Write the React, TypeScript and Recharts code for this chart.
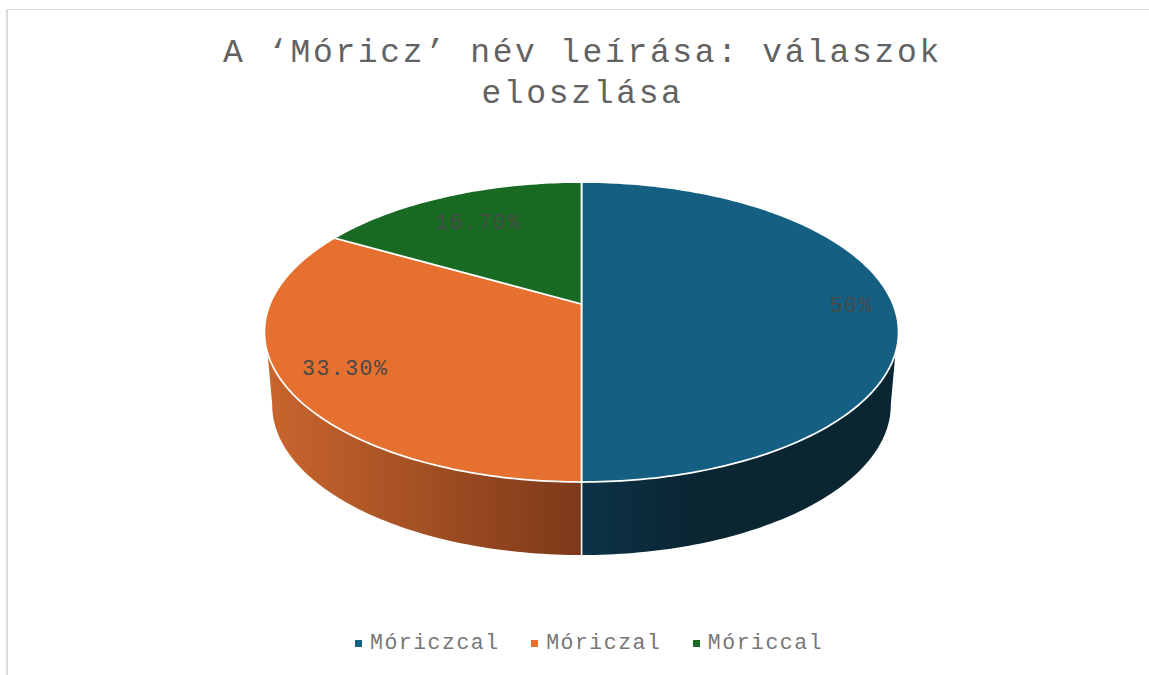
import React from "react";
import { PieChart, Pie, Legend } from "recharts";

const categories = ["Móriczcal", "Móriczal", "Móriccal"];
const shares = [50, 33.3, 16.7];
const labels = ["50%", "33.30%", "16.70%"];
const colors = ["#156082", "#E6702F", "#196B24"];
const wallStops = [
  [["0%", "#0D3247"], ["35%", "#0A2633"], ["100%", "#0A2633"]],
  [["0%", "#C9652D"], ["100%", "#7C3919"]],
  [["0%", "#0F4016"], ["100%", "#0F4016"]],
];
const labelReach = [0.866, 0.81, 0.74];
const titleLines = ["A ‘Móricz’ név leírása: válaszok", "eloszlása"];

const FONT = "'Liberation Mono', monospace";
const TILT = 0.4648;
const PERSPECTIVE = 0.1867;
const DEPTH = 73;
const BASE_SCALE = 0.9755;

const rows = categories.map((name, i) => ({ name, value: shares[i], fill: colors[i] }));

function project(cx: number, cy: number, r: number, deg: number, reach = 1, scale = 1, drop = 0) {
  const a = (deg * Math.PI) / 180;
  const u = Math.cos(a) * reach;
  const v = Math.sin(a) * reach;
  const w = 1 + PERSPECTIVE * v;
  return [cx + (r * scale * u) / w, cy + drop - (r * TILT * v) / w];
}

function arc(cx: number, cy: number, r: number, from: number, to: number, scale = 1, drop = 0) {
  const n = Math.max(2, Math.ceil(Math.abs(to - from)));
  const pts: number[][] = [];
  for (let i = 0; i <= n; i++) pts.push(project(cx, cy, r, from + ((to - from) * i) / n, 1, scale, drop));
  return pts;
}

const toPath = (pts: number[][]) =>
  pts.map((p, i) => `${i ? "L" : "M"}${p[0].toFixed(2)} ${p[1].toFixed(2)}`).join(" ");

// Part of [lo, hi] (degrees, math convention) that shows on the front wall, down to a limit angle.
function frontRange(a: number, b: number, edge: number) {
  const hi = Math.max(a, b);
  const lo = Math.min(a, b);
  const ranges: number[][] = [];
  for (let k = -2; k <= 1; k++) {
    const s = Math.max(lo, 180 + edge + 360 * k);
    const e = Math.min(hi, 360 - edge + 360 * k);
    if (e > s) ranges.push([s, e]);
  }
  return ranges;
}

function Slice(props: any) {
  const { cx, cy, outerRadius: r, startAngle, endAngle, fill, index } = props;
  const top = arc(cx, cy, r, startAngle, endAngle);
  const topPath = `M${cx} ${cy} ${toPath(top).replace(/^M/, "L")} Z`;
  const walls = frontRange(startAngle, endAngle, 18.5).map(([s, e], j) => {
    const b = frontRange(startAngle, endAngle, 10.5)[j] ?? [s, e];
    const upper = arc(cx, cy, r, s, e);
    const lower = arc(cx, cy, r, b[1], b[0], BASE_SCALE, DEPTH);
    return toPath([...upper, ...lower]) + " Z";
  });
  const seams = [startAngle, endAngle]
    .filter((d) => Math.abs(((d % 360) + 360) % 360 - 270) < 1)
    .map((d) => {
      const p = project(cx, cy, r, d);
      const q = project(cx, cy, r, d, 1, BASE_SCALE, DEPTH);
      return `M${p[0]} ${p[1]} L${q[0]} ${q[1]}`;
    });
  return (
    <g>
      <defs>
        <linearGradient id={`wall-${index}`} x1="0" y1="0" x2="1" y2="0">
          {wallStops[index].map(([o, c]) => (
            <stop key={o} offset={o} stopColor={c} />
          ))}
        </linearGradient>
      </defs>
      {walls.map((d, j) => (
        <path key={j} d={d} fill={`url(#wall-${index})`} />
      ))}
      {seams.map((d, j) => (
        <path key={j} d={d} stroke="#F2F2F2" strokeWidth={1.5} fill="none" />
      ))}
      <path d={topPath} fill={fill} stroke="#FFFFFF" strokeWidth={1.75} strokeLinejoin="round" />
    </g>
  );
}

function SliceLabel(props: any) {
  const { cx, cy, outerRadius, midAngle, index } = props;
  const [x, y] = project(cx, cy, outerRadius, midAngle, labelReach[index]);
  return (
    <text
      x={x}
      y={y + 1.5}
      textAnchor="middle"
      dominantBaseline="central"
      fontFamily={FONT}
      fontSize={21.5}
      letterSpacing={1.5}
      fill="#484848"
    >
      {labels[index]}
    </text>
  );
}

function LegendRow({ payload }: any) {
  return (
    <div style={{ display: "flex", alignItems: "center", fontFamily: FONT, fontSize: 21.5, letterSpacing: 1.5, color: "#767676", lineHeight: "26px", whiteSpace: "nowrap" }}>
      {(payload ?? []).map((item: any, i: number) => (
        <div key={item.value} style={{ display: "flex", alignItems: "center", marginRight: i < 2 ? 31.5 : 0 }}>
          <span style={{ width: 7, height: 7, background: item.color, marginRight: 8, display: "inline-block" }} />
          <span>{item.value}</span>
        </div>
      ))}
    </div>
  );
}

export default function App() {
  return (
    <div style={{ position: "absolute", left: 0, top: 0, width: 1149, height: 675, overflow: "hidden", background: "#fff" }}>
      <div style={{ position: "absolute", left: 6, top: 9, width: 1200, height: 700, border: "2px solid #DDDDDD", borderRightWidth: 0, borderBottomWidth: 0, boxSizing: "border-box", borderTopWidth: 1 }} />
      <PieChart width={1149} height={675} margin={{ top: 0, right: 0, bottom: 0, left: 0 }} style={{ position: "absolute", left: 0, top: 0 }}>
        {titleLines.map((line, i) => (
          <text key={line} x={582.5} y={62 + i * 41} textAnchor="middle" fontFamily={FONT} fontSize={33} letterSpacing={2.66} fill="#626262">
            {line}
          </text>
        ))}
        <Pie
          data={rows}
          dataKey="value"
          nameKey="name"
          cx={581.5}
          cy={304}
          outerRadius={311.5}
          innerRadius={0}
          startAngle={90}
          endAngle={-270}
          paddingAngle={0}
          isAnimationActive={false}
          labelLine={false}
          label={SliceLabel}
          shape={Slice}
          rootTabIndex={-1}
        />
        <Legend itemSorter={null} content={LegendRow as any} wrapperStyle={{ position: "absolute", left: 355, top: 630, width: "auto", bottom: "auto" }} />
      </PieChart>
    </div>
  );
}
